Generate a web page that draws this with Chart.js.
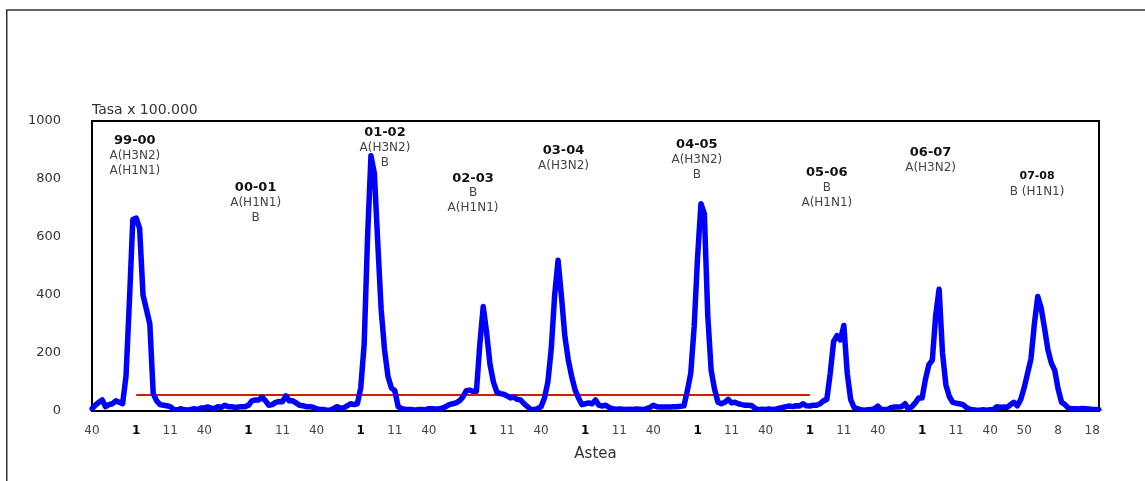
<!DOCTYPE html>
<html><head><meta charset="utf-8">
<script src="https://cdn.jsdelivr.net/npm/chart.js@4"></script>
<style>html,body{margin:0;padding:0;background:#fff}#wrap{width:1145px;height:481px;position:relative}</style>
</head><body><div id="wrap"><canvas id="c"></canvas></div>
<script>
// ---- DATA ----
const seasons = ['99-00','00-01','01-02','02-03','03-04','04-05','05-06','06-07','07-08'];
const seasonWeeks = [40,41,42,43,44,45,46,47,48,49,50,51,52,1,2,3,4,5,6,7,8,9,10,11,12,13,14,15,16,17,18,19,20];
const season9900 = [8,20,30,38,15,22,25,35,30,25,120,380,660,665,630,400,350,300,60,35,22,20,18,15,5,3,8,5,3,5,8,5,10];
const season0001 = [10,14,10,8,15,12,20,15,15,12,14,15,15,20,35,38,38,48,35,20,22,30,33,32,52,35,35,28,20,18,15,15,13];
const season0102 = [8,5,5,3,3,8,15,10,10,18,25,22,25,80,230,600,880,820,580,350,210,119,80,70,15,8,6,5,5,3,5,5,4];
const season0203 = [8,8,7,8,10,15,22,25,28,35,48,70,72,68,68,230,360,270,160,100,65,60,58,52,45,48,40,38,25,15,5,5,8];
const season0304 = [15,45,100,215,400,520,395,257,176,119,73,45,22,25,28,25,38,20,17,20,12,8,6,7,6,5,6,5,7,6,5,8,12];
const season0405 = [20,15,14,14,14,14,15,15,16,18,70,130,290,530,715,680,330,140,75,30,25,30,40,28,30,25,22,20,20,18,8,5,6];
const season0506 = [5,7,5,6,10,12,15,17,15,18,17,25,18,17,20,20,25,35,40,130,240,260,245,295,130,40,12,8,4,3,4,5,8];
const season0607 = [17,5,5,6,12,14,14,15,25,5,15,28,45,45,110,160,175,330,420,200,90,50,30,27,25,22,12,6,4,3,3,4,3];
const season0708 = [4,5,15,12,14,12,22,30,18,40,80,130,180,300,395,355,285,210,165,140,75,30,22,10,8,8,7,9,8,7,5,5,4];
const tickWeeksRegular = [40,1,11];
const tickWeeksLast = [40,50,8,18];
const yTickValues = [0,200,400,600,800,1000];
const thresholdValue = 55;
const thresholdFromSeason = 0, thresholdToSeason = 6, thresholdWeek = 1;
const seasonSubtypes = [['A(H3N2)','A(H1N1)'],['A(H1N1)','B'],['A(H3N2)','B'],['B','A(H1N1)'],['A(H3N2)'],['A(H3N2)','B'],['B','A(H1N1)'],['A(H3N2)'],['B (H1N1)']];
// label anchor: [category index, y value] of the season title
const labelAnchors = [[12.6,932],[48.1,769],[86.1,959],[112,803],[138.6,898],[177.8,917],[216,821],[246.5,890],[277.8,811]];
const yTitle = 'Tasa x 100.000';
const xTitle = 'Astea';

// ---- BUILD ----
const perSeason = seasonWeeks.length;
const labels = seasons.flatMap(() => seasonWeeks);
const rates = [].concat(season9900, season0001, season0102, season0203, season0304, season0405, season0506, season0607, season0708);
const thrStart = thresholdFromSeason * perSeason + seasonWeeks.indexOf(thresholdWeek);
const thrEnd = thresholdToSeason * perSeason + seasonWeeks.indexOf(thresholdWeek);
const threshold = labels.map((w, i) => (i >= thrStart && i <= thrEnd) ? thresholdValue : null);

const FONT = 'DejaVu Sans';

const decor = {
  id: 'decor',
  beforeDraw(chart) {
    const ctx = chart.ctx;
    ctx.save();
    ctx.strokeStyle = '#333';
    ctx.lineWidth = 1.5;
    ctx.beginPath();
    ctx.moveTo(6.75, 481); ctx.lineTo(6.75, 10); ctx.lineTo(1145, 10);
    ctx.stroke();
    ctx.restore();
  },
  beforeDatasetsDraw(chart) {
    const {ctx, chartArea: a} = chart;
    ctx.save();
    ctx.strokeStyle = '#000';
    ctx.lineWidth = 2;
    ctx.strokeRect(a.left, a.top, a.right - a.left, a.bottom - a.top);
    ctx.fillStyle = '#333';
    ctx.font = '14px "' + FONT + '"';
    ctx.textAlign = 'left';
    ctx.textBaseline = 'middle';
    ctx.fillText(yTitle, a.left, a.top - 11);
    ctx.restore();
  },
  afterDatasetsDraw(chart) {
    const ctx = chart.ctx;
    const xs = chart.scales.x, ys = chart.scales.y;
    ctx.save();
    ctx.textAlign = 'center';
    ctx.textBaseline = 'middle';
    seasons.forEach((s, k) => {
      const [ix, v] = labelAnchors[k];
      const x = xs.getPixelForValue(ix);
      const y = ys.getPixelForValue(v);
      const small = k === seasons.length - 1;
      ctx.fillStyle = '#111';
      ctx.font = 'bold ' + (small ? 11 : 13) + 'px "' + FONT + '"';
      ctx.fillText(s, x, y);
      ctx.fillStyle = '#444';
      ctx.font = '12px "' + FONT + '"';
      seasonSubtypes[k].forEach((t, j) => {
        ctx.fillText(t, x, y + (small ? 16 : 15) + j * 14.8);
      });
    });
    ctx.restore();
  }
};

new Chart(document.getElementById('c'), {
  type: 'line',
  data: {
    labels: labels,
    datasets: [
      { data: rates, borderColor: '#0000FF', borderWidth: 5.5, pointRadius: 0, tension: 0, fill: false, borderJoinStyle: 'round', borderCapStyle: 'round' },
      { data: threshold, borderColor: '#CC2200', borderWidth: 2, pointRadius: 0, tension: 0, fill: false, spanGaps: false }
    ]
  },
  options: {
    responsive: true,
    maintainAspectRatio: false,
    animation: false,
    events: [],
    layout: { padding: { left: 0, right: 46, top: 121, bottom: 0 } },
    plugins: { legend: { display: false }, tooltip: { enabled: false } },
    scales: {
      x: {
        type: 'category',
        offset: false,
        grid: { display: false, drawTicks: false },
        border: { display: false },
        afterFit(s) { s.height = 70; },
        ticks: {
          autoSkip: false, maxRotation: 0, minRotation: 0, padding: 13,
          callback(value, index) {
            const season = Math.floor(index / perSeason);
            const week = labels[index];
            const show = season === seasons.length - 1 ? tickWeeksLast : tickWeeksRegular;
            return show.includes(week) ? String(week) : '';
          },
          font: (c) => ({ family: FONT, size: 12, weight: (c.tick && c.tick.label === '1') ? 'bold' : 'normal' }),
          color: (c) => (c.tick && c.tick.label === '1') ? '#000' : '#444'
        },
        title: { display: true, text: xTitle, color: '#333', font: { family: FONT, size: 15 }, padding: { top: 0, bottom: 18 } }
      },
      y: {
        min: 0, max: 1000,
        afterFit(s) { s.width = 92; },
        afterBuildTicks(s) { s.ticks = yTickValues.map(v => ({ value: v })); },
        grid: { display: false, drawTicks: false },
        border: { display: false },
        ticks: { padding: 31, color: '#333', font: { family: FONT, size: 13 }, callback: (v) => String(v) }
      }
    }
  },
  plugins: [decor]
});
</script>
</body></html>
